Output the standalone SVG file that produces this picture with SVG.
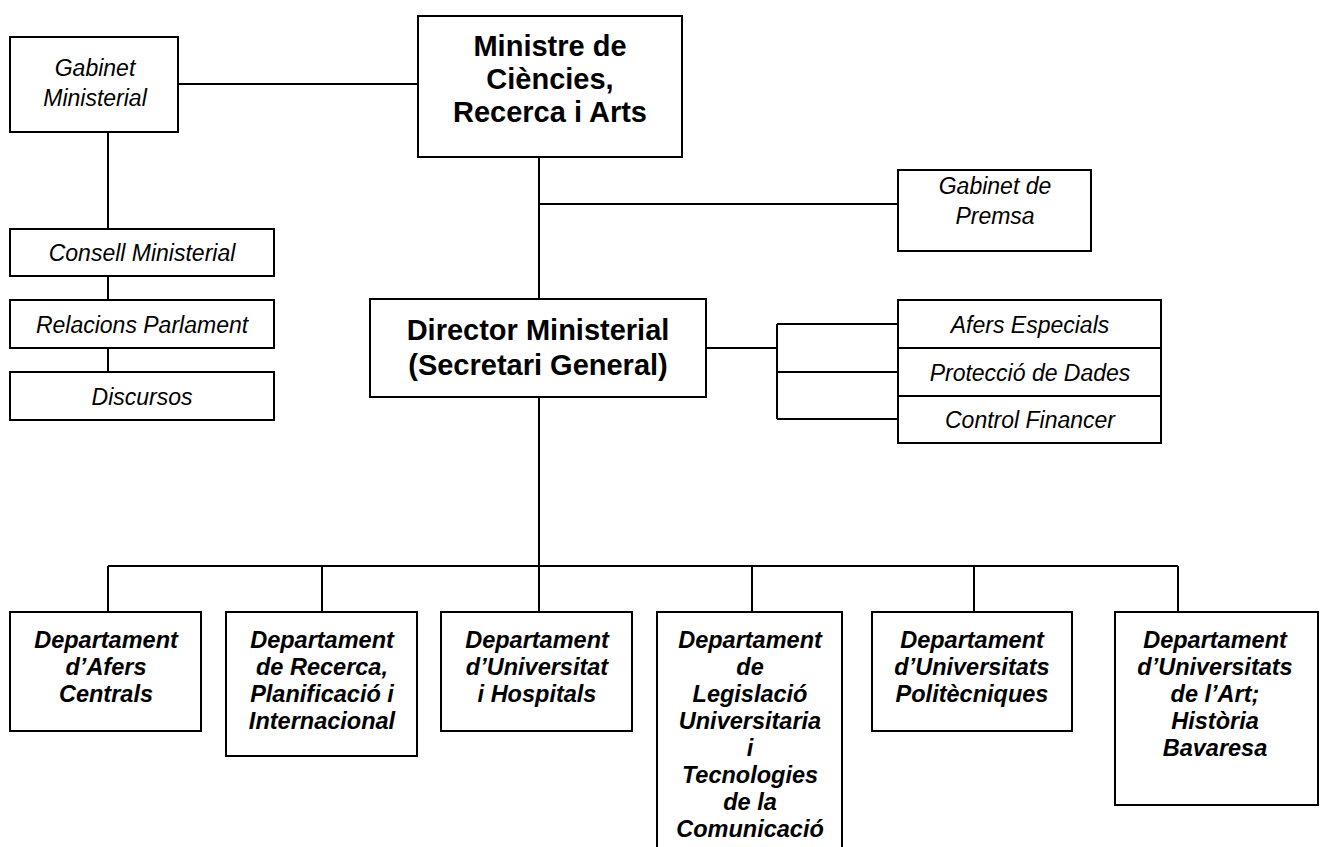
<svg xmlns="http://www.w3.org/2000/svg" width="1320" height="847" viewBox="0 0 1320 847">
<style>
.box{fill:#fff;stroke:#000;stroke-width:2}
.ln{fill:none;stroke:#000;stroke-width:2}
text{font-family:"Liberation Sans",Arial,sans-serif;text-anchor:middle;fill:#000}
.it{font-style:italic;font-size:23px}
.bd{font-weight:bold;font-size:29px}
.dp{font-weight:bold;font-style:italic;font-size:23.5px}
</style>
<rect width="1320" height="847" fill="#fff"/>
<g id="connectors" class="ln">
<path d="M178 84H418"/>
<path d="M539 157V299"/>
<path d="M539 204H898"/>
<path d="M108 132V229M108 276V300M108 348V372"/>
<path d="M706 348H777M777 324V419M777 324H898M777 372H898M777 419H898"/>
<path d="M539 397V566M108 566H1178"/>
<path d="M108 566V612M322 566V612M539 566V612M752 566V612M974 566V612M1178 566V612"/>
</g>
<g id="gabinet-ministerial"><rect class="box" x="10" y="37" width="168" height="95"/><text class="it" x="95" y="76">Gabinet</text><text class="it" x="95" y="106">Ministerial</text></g>
<g id="ministre"><rect class="box" x="418" y="16" width="264" height="141"/><text class="bd" x="550" y="56">Ministre de</text><text class="bd" x="550" y="89">Ciències,</text><text class="bd" x="550" y="122">Recerca i Arts</text></g>
<g id="gabinet-premsa"><rect class="box" x="898" y="170" width="193" height="81"/><text class="it" x="995" y="194">Gabinet de</text><text class="it" x="995" y="224">Premsa</text></g>
<g id="consell"><rect class="box" x="10" y="229" width="264" height="47"/><text class="it" x="142" y="261">Consell Ministerial</text></g>
<g id="relacions"><rect class="box" x="10" y="300" width="264" height="48"/><text class="it" x="142" y="333">Relacions Parlament</text></g>
<g id="discursos"><rect class="box" x="10" y="372" width="264" height="48"/><text class="it" x="142" y="405">Discursos</text></g>
<g id="director"><rect class="box" x="370" y="299" width="336" height="98"/><text class="bd" x="538" y="340">Director Ministerial</text><text class="bd" x="538" y="375">(Secretari General)</text></g>
<g id="afers-especials"><rect class="box" x="898" y="300" width="263" height="48"/><text class="it" x="1030" y="333">Afers Especials</text></g>
<g id="proteccio"><rect class="box" x="898" y="348" width="263" height="48"/><text class="it" x="1030" y="381">Protecció de Dades</text></g>
<g id="control"><rect class="box" x="898" y="396" width="263" height="47"/><text class="it" x="1030" y="428">Control Financer</text></g>
<g id="dept-afers-centrals"><rect class="box" x="10" y="612" width="191" height="119"/><text class="dp" x="106" y="648">Departament</text><text class="dp" x="106" y="675">d’Afers</text><text class="dp" x="106" y="702">Centrals</text></g>
<g id="dept-recerca"><rect class="box" x="226" y="612" width="191" height="144"/><text class="dp" x="322" y="648">Departament</text><text class="dp" x="322" y="675">de Recerca,</text><text class="dp" x="322" y="702">Planificació i</text><text class="dp" x="322" y="729">Internacional</text></g>
<g id="dept-universitat"><rect class="box" x="441" y="612" width="191" height="119"/><text class="dp" x="537" y="648">Departament</text><text class="dp" x="537" y="675">d’Universitat</text><text class="dp" x="537" y="702">i Hospitals</text></g>
<g id="dept-legislacio"><rect class="box" x="657" y="612" width="185" height="245"/><text class="dp" x="750" y="648">Departament</text><text class="dp" x="750" y="675">de</text><text class="dp" x="750" y="702">Legislació</text><text class="dp" x="750" y="729">Universitaria</text><text class="dp" x="750" y="756">i</text><text class="dp" x="750" y="783">Tecnologies</text><text class="dp" x="750" y="810">de la</text><text class="dp" x="750" y="837">Comunicació</text></g>
<g id="dept-politecniques"><rect class="box" x="872" y="612" width="200" height="119"/><text class="dp" x="972" y="648">Departament</text><text class="dp" x="972" y="675">d’Universitats</text><text class="dp" x="972" y="702">Politècniques</text></g>
<g id="dept-art"><rect class="box" x="1115" y="612" width="203" height="193"/><text class="dp" x="1215" y="648">Departament</text><text class="dp" x="1215" y="675">d’Universitats</text><text class="dp" x="1215" y="702">de l’Art;</text><text class="dp" x="1215" y="729">Història</text><text class="dp" x="1215" y="756">Bavaresa</text></g>
</svg>
